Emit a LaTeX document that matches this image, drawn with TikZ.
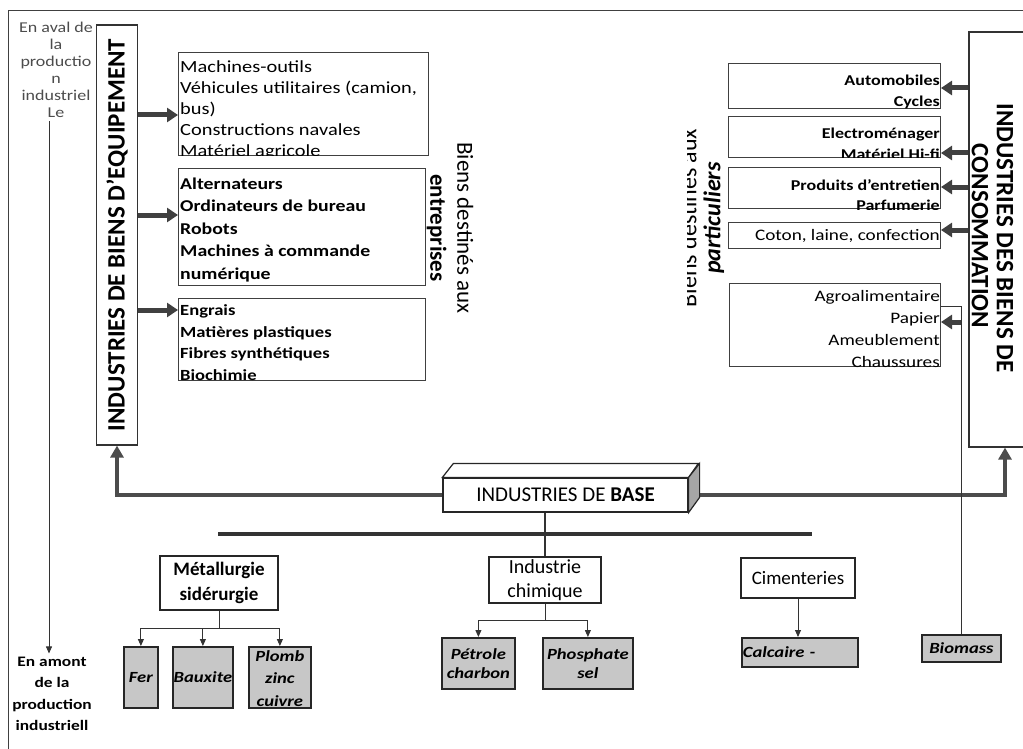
\documentclass[tikz,border=0pt]{standalone}
\usepackage{fontspec}
\setmainfont{Carlito}[FakeStretch=1.2]
\newfontfamily\plainfont{Carlito}
\usetikzlibrary{arrows.meta}

\tikzset{
  listbox/.style={draw=black!75, line width=1pt, inner sep=0pt, anchor=north west},
  listtext/.style={anchor=north west, align=left, inner xsep=2pt},
  listtextr/.style={anchor=north east, align=right, inner xsep=1pt},
  greybox/.style={draw=black!85, line width=1.8pt, fill=black!22, inner sep=0pt, anchor=north west,
    font=\fontsize{15.5}{19}\selectfont\bfseries\itshape, align=center},
  whitebox/.style={draw=black!85, line width=1.2pt, inner sep=0pt, align=center},
  fat/.style={draw=black!75, line width=5pt, -{Triangle[length=11pt,width=14pt]}},
  feed/.style={draw=black!70, line width=4pt, -{Triangle[length=12pt,width=13pt]}},
  branch/.style={draw=black!80, line width=0.9pt, -{Triangle[length=7pt,width=6pt]}},
}

\begin{document}
\begin{tikzpicture}[x=1pt,y=-1pt]
  \useasboundingbox (0,0) rectangle (1023,749);
  % frame
  \draw[line width=1pt,black!75] (8,749) -- (8,11) -- (1023,11);
  % en aval / en amont
  \node[font=\fontsize{15}{17}\selectfont, text=black!70, align=center] (aval) at (56,70) {En aval de\\la\\productio\\n\\industriel\\Le};
  \node[font=\fontsize{14.5}{21.5}\selectfont\bfseries, align=center] (amont) at (52,694) {En amont\\de la\\production\\industriell};
  \coordinate (avalfoot) at ([xshift=-7pt]aval.south);
  \draw[branch] (avalfoot) -- (avalfoot |- amont.north);
  % biens d'equipement
  \node[draw=black!80, line width=1.2pt, rotate=90, minimum width=420pt, minimum height=41pt, inner sep=0pt,
    font=\plainfont\bfseries\fontsize{25}{25}\selectfont] (equip) at (117,235) {INDUSTRIES DE BIENS D’EQUIPEMENT};
  % lists left
  \node[listbox, minimum width=250pt, minimum height=103pt] (mach) at (178,52) {};
  \begin{scope}
    \clip (mach.north west) rectangle (mach.south east);
    \node[listtext, inner ysep=8pt, font=\fontsize{17}{21}\selectfont] (machtxt) at (mach.north west)
      {Machines-outils\\Véhicules utilitaires (camion,\\bus)\\Constructions navales\\Matériel agricole};
  \end{scope}
  \node[listbox, line width=1.4pt, minimum width=247pt, minimum height=117pt] (alter) at (178,168) {};
  \begin{scope}
    \clip (alter.north west) rectangle (alter.south east);
    \node[listtext, inner ysep=9.5pt, font=\fontsize{16.5}{22.5}\selectfont\bfseries] (altertxt) at (alter.north west)
      {Alternateurs\\Ordinateurs de bureau\\Robots\\Machines à commande\\numérique};
  \end{scope}
  \node[listbox, minimum width=247pt, minimum height=82pt] (engr) at (178,298) {};
  \begin{scope}
    \clip (engr.north west) rectangle (engr.south east);
    \node[listtext, inner ysep=6.5pt, font=\fontsize{15.5}{21.5}\selectfont\bfseries] (engrtxt) at (engr.north west)
      {Engrais\\Matières plastiques\\Fibres synthétiques\\Biochimie};
  \end{scope}
  % arrows left
  \draw[fat] (equip.south |- 0,115) -- (mach.west |- 0,115);
  \draw[fat] (equip.south |- 0,215) -- (alter.west |- 0,215);
  \draw[fat] (equip.south |- 0,310) -- (engr.west |- 0,310);
  % entreprises
  \node[rotate=-90, align=center, font=\plainfont\fontsize{23}{27}\selectfont] (entr) at (450,228) {Biens destinés aux\\\textbf{entreprises}};
  % biens de consommation
  \node[draw=black!80, line width=1.2pt, rotate=-90, minimum width=415pt, minimum height=72pt, inner sep=0pt] (conso) at (1005,239.5) {};
  \node[rotate=-90, font=\plainfont\bfseries\fontsize{25}{25}\selectfont] (consoa) at (1005,238) {INDUSTRIES DES BIENS DE};
  \node[rotate=-90, font=\plainfont\bfseries\fontsize{25}{25}\selectfont] (consob) at (980,236) {CONSOMMATION};
  % lists right
  \node[listbox, minimum width=212pt, minimum height=45pt] (autom) at (728,63) {};
  \node[listbox, minimum width=212pt, minimum height=41pt] (electro) at (728,116) {};
  \node[listbox, minimum width=212pt, minimum height=41pt] (prod) at (728,167) {};
  \node[listbox, minimum width=212pt, minimum height=26pt] (coton) at (728,222) {};
  \node[listbox, minimum width=211pt, minimum height=83pt] (agro) at (729,283) {};
  \begin{scope}
    \clip (autom.north west) rectangle (autom.south east);
    \node[listtextr, inner ysep=12pt, font=\fontsize{15}{20.5}\selectfont\bfseries] (automtxt) at (autom.north east) {Automobiles\\Cycles};
  \end{scope}
  \begin{scope}
    \clip (electro.north west) rectangle (electro.south east);
    \node[listtextr, inner ysep=12pt, font=\fontsize{15}{20.5}\selectfont\bfseries] (electrotxt) at (electro.north east) {Electroménager\\Matériel Hi-fi};
  \end{scope}
  \begin{scope}
    \clip (prod.north west) rectangle (prod.south east);
    \node[listtextr, inner ysep=12pt, font=\fontsize{15}{20.5}\selectfont\bfseries] (prodtxt) at (prod.north east) {Produits d’entretien\\Parfumerie};
  \end{scope}
  \begin{scope}
    \clip (coton.north west) rectangle (coton.south east);
    \node[listtextr, inner ysep=7pt, font=\fontsize{16}{20}\selectfont] (cotontxt) at (coton.north east) {Coton, laine, confection};
  \end{scope}
  \begin{scope}
    \clip (agro.north west) rectangle (agro.south east);
    \node[listtextr, inner ysep=7pt, font=\fontsize{16}{22}\selectfont] (agrotxt) at (agro.north east) {Agroalimentaire\\Papier\\Ameublement\\Chaussures};
  \end{scope}
  % arrows right
  \draw[fat] (conso.south |- 0,88) -- (autom.east |- 0,88);
  \draw[fat] (conso.south |- 0,153) -- (electro.east |- 0,153);
  \draw[fat] (conso.south |- 0,187) -- (prod.east |- 0,187);
  \draw[fat] (conso.south |- 0,230) -- (coton.east |- 0,230);
  % particuliers
  \begin{scope}
    \clip (687,100) rectangle (760,340);
    \node[rotate=90, align=center, font=\plainfont\fontsize{24}{24}\selectfont] (partic) at (702,218) {Biens destinés aux\\\textbf{\textit{particuliers}}};
  \end{scope}
  % industries de base
  \node[whitebox, minimum width=245pt, minimum height=34pt, font=\plainfont\fontsize{21}{24}\selectfont] (base) at (565.5,495) {INDUSTRIES DE \textbf{BASE}};
  \draw[feed] (base.west) -| (equip.west);
  \draw[feed] (base.east) -| (conso.east);
  \draw[black!85, line width=1.2pt, fill=white] (base.north west) -- ++(11,-14) -- ++(245,0) -- (base.north east) -- cycle;
  \draw[black!85, line width=1.2pt, fill=black!35] (base.north east) -- ++(11,-14) -- ++(0,34) -- (base.south east) -- cycle;
  % bar
  \draw[line width=4.5pt, black!80] (218,534) -- (812,534);
  % metallurgie
  \node[whitebox, minimum width=118pt, minimum height=54pt, font=\plainfont\bfseries\fontsize{19}{25}\selectfont] (metal) at (219,583) {Métallurgie\\sidérurgie};
  \node[greybox, minimum width=34pt, minimum height=61pt] (fer) at (123,646) {Fer};
  \node[greybox, minimum width=60pt, minimum height=61pt] (baux) at (172,646) {Bauxite};
  \node[greybox, minimum width=62pt, minimum height=61pt] (plomb) at (248,646) {};
  \begin{scope}
    \clip (plomb.north west) rectangle (plomb.south east);
    \node[anchor=north, align=center, inner ysep=4pt, font=\fontsize{15.5}{22.5}\selectfont\bfseries\itshape] (plombtxt) at (plomb.north) {Plomb\\zinc\\cuivre};
  \end{scope}
  \draw[branch] (metal.south) -- ++(0,18) -| (fer.north);
  \draw[branch] (metal.south) -- ++(0,18) -| (baux.north);
  \draw[branch] (metal.south) -- ++(0,18) -| (plomb.north);
  % chimie
  \node[whitebox, minimum width=112pt, minimum height=46pt, font=\plainfont\fontsize{20}{24}\selectfont] (chem) at (545,580) {Industrie\\chimique};
  \draw[line width=1.5pt, black!80] (chem.north |- base.south) -- (chem.north);
  \node[greybox, minimum width=73pt, minimum height=51pt] (petrole) at (441,637) {Pétrole\\charbon};
  \node[greybox, minimum width=90pt, minimum height=51pt] (phos) at (542,637) {Phosphate\\sel};
  \draw[branch] (chem.south) -- ++(0,17) -| (petrole.north);
  \draw[branch] (chem.south) -- ++(0,17) -| (phos.north);
  % cimenteries
  \node[whitebox, minimum width=114pt, minimum height=40pt, font=\plainfont\fontsize{19}{22}\selectfont] (ciment) at (798,578) {Cimenteries};
  \node[greybox, minimum width=116pt, minimum height=29pt, text width=114pt, inner xsep=1pt, align=left] (calc) at (741,637) {Calcaire -};
  \draw[branch] (ciment.south) -- (ciment.south |- calc.north);
  % biomass
  \node[greybox, minimum width=79pt, minimum height=27pt] (bio) at (921,634) {Biomass};
  \draw[line width=1pt, black!80] (bio.north) |- (agro.east |- 0,306);
  \draw[fat] (bio.north |- 0,322) -- (agro.east |- 0,322);
\end{tikzpicture}
\end{document}
